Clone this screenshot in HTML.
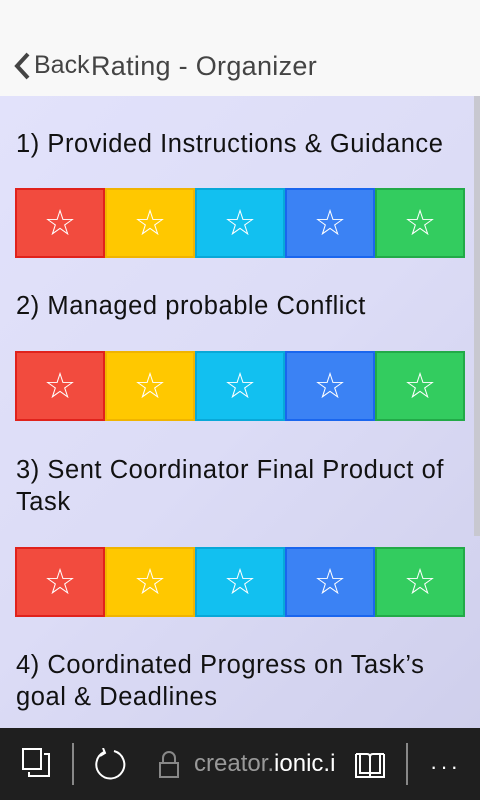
<!DOCTYPE html>
<html><head><style>
*{margin:0;padding:0;box-sizing:border-box}
body{width:480px;height:800px;overflow:hidden;font-family:"Liberation Sans",sans-serif;background:#f8f8f8;position:relative}
.hdr{position:absolute;top:0;left:0;width:480px;height:96px;background:#f8f8f8}
.hdr .t{position:absolute;top:51px;font-size:27px;color:#444;letter-spacing:0.3px}
.main{position:absolute;top:96px;left:0;width:480px;height:632px;background:linear-gradient(135deg,#e2e2fb 0%,#dcdcf6 50%,#cfcfec 100%)}
.sb{position:absolute;top:96px;right:0;width:6px;height:440px;background:#c8c8d0}
.q{position:absolute;left:16px;font-size:25.5px;color:#111;line-height:32px;letter-spacing:0.55px;white-space:nowrap}
.bar{position:absolute;left:15px;width:450px;height:70px;display:flex}
.bar div{flex:1;display:flex;align-items:center;justify-content:center;color:#fff;font-size:36px;border:2px solid}
.r{background:#f24b3e;border-color:#e0221c!important}
.y{background:#ffc800;border-color:#f0b400!important}
.c{background:#12c0f0;border-color:#08a8d8!important}
.b{background:#3b82f4;border-color:#1a66ee!important}
.g{background:#33cc5f;border-color:#22aa48!important}
.bot{position:absolute;top:728px;left:0;width:480px;height:72px;background:#1f1f1f;color:#fff}
</style></head><body>
<div class="hdr">
<svg style="position:absolute;left:12px;top:51px" width="20" height="30"><polyline points="16,3 5,15 16,27" fill="none" stroke="#444" stroke-width="4"/></svg>
<div class="t" style="left:34px;font-size:25px;letter-spacing:0">Back</div>
<div class="t" style="left:91px">Rating - Organizer</div>
</div>
<div class="main"></div>
<div class="sb"></div>
<div class="q" style="top:128px">1) Provided Instructions &amp; Guidance</div>
<div class="bar" style="top:188px"><div class="r">☆</div><div class="y">☆</div><div class="c">☆</div><div class="b">☆</div><div class="g">☆</div></div>
<div class="q" style="top:290px">2) Managed probable Conflict</div>
<div class="bar" style="top:351px"><div class="r">☆</div><div class="y">☆</div><div class="c">☆</div><div class="b">☆</div><div class="g">☆</div></div>
<div class="q" style="top:454px">3) Sent Coordinator Final Product of<br>Task</div>
<div class="bar" style="top:547px"><div class="r">☆</div><div class="y">☆</div><div class="c">☆</div><div class="b">☆</div><div class="g">☆</div></div>
<div class="q" style="top:649px">4) Coordinated Progress on Task’s<br>goal &amp; Deadlines</div>
<div class="bot">
<svg style="position:absolute;left:22px;top:20px" width="30" height="30"><rect x="1" y="1" width="18" height="20" fill="none" stroke="#fff" stroke-width="2"/><polyline points="22,6 27,6 27,28 7,28 7,24" fill="none" stroke="#fff" stroke-width="2"/></svg>
<div style="position:absolute;left:72px;top:15px;width:2px;height:42px;background:#888"></div>
<svg style="position:absolute;left:94px;top:20px" width="32" height="32"><path d="M10 4 A14 14 0 1 0 20 3" fill="none" stroke="#fff" stroke-width="2"/><polyline points="9,0 11,5 6,8" fill="none" stroke="#fff" stroke-width="2"/></svg>
<svg style="position:absolute;left:158px;top:22px" width="24" height="30"><rect x="2" y="13" width="18" height="14" fill="none" stroke="#888" stroke-width="2"/><path d="M5 13 V8 A6 6 0 0 1 17 8 V13" fill="none" stroke="#888" stroke-width="2"/></svg>
<div style="position:absolute;left:194px;top:22px;font-size:24px;color:#999;white-space:nowrap;width:140px;overflow:hidden">creator.<span style="color:#fff">ionic.io</span></div>
<svg style="position:absolute;left:354px;top:23px" width="32" height="28"><path d="M2 3 H13 Q16 3 16 6 V26 M30 3 H19 Q16 3 16 6 M2 3 V26 H30 V3 M6 3 V22 H16 H26 V3" fill="none" stroke="#fff" stroke-width="2"/></svg>
<div style="position:absolute;left:406px;top:15px;width:2px;height:42px;background:#888"></div>
<div style="position:absolute;left:430px;top:26px;font-size:22px;letter-spacing:3px">···</div>
</div>
</body></html>
